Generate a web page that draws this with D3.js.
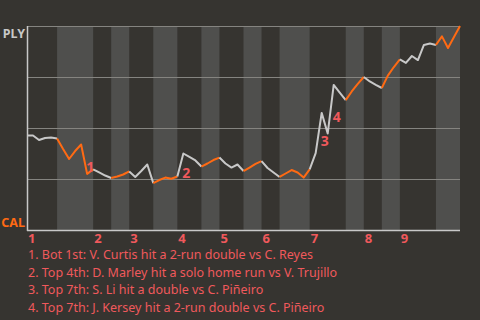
<!DOCTYPE html>
<html>
<head>
<meta charset="utf-8">
<script src="https://cdn.jsdelivr.net/npm/d3@7"></script>
<style>
  body { margin: 0; background: #363430; }
  svg { display: block; font-family: "Noto Sans", sans-serif; }
</style>
</head>
<body>
<div id="chart"></div>
<script>
// Win probability for PLY, one value per play (0 = CAL wins, 1 = PLY wins)
var winProb = [
    0.463, 0.463, 0.441, 0.451, 0.453, 0.449, 0.397, 0.348, 0.387, 0.419,
    0.275, 0.297, 0.282, 0.267, 0.255, 0.262, 0.272, 0.287, 0.260, 0.289,
    0.321, 0.230, 0.245, 0.257, 0.251, 0.262, 0.375, 0.358, 0.341, 0.311,
    0.326, 0.343, 0.355, 0.326, 0.306, 0.321, 0.289, 0.306, 0.324, 0.338,
    0.304, 0.282, 0.260, 0.277, 0.294, 0.282, 0.257, 0.297, 0.377, 0.574,
    0.473, 0.711, 0.674, 0.637, 0.679, 0.716, 0.750, 0.728, 0.711, 0.696,
    0.757, 0.799, 0.836, 0.819, 0.853, 0.833, 0.907, 0.914, 0.907, 0.949,
    0.892, 0.946, 1.000
];

// Play index where each half inning starts (top 1, bot 1, top 2, ...)
var halfStarts = [0, 5, 11, 14, 17, 21, 25, 29, 32, 36, 39, 42, 47, 53, 56, 59, 62, 68];
var innings = ["1", "2", "3", "4", "5", "6", "7", "8", "9"];

var teams = ["PLY", "CAL"];
var gridValues = [0, 0.25, 0.5, 0.75, 1];

// Key plays
var eventPlays = [10, 26, 49, 51];
var eventTexts = [
    "1. Bot 1st: V. Curtis hit a 2-run double vs C. Reyes",
    "2. Top 4th: D. Marley hit a solo home run vs V. Trujillo",
    "3. Top 7th: S. Li hit a double vs C. Piñeiro",
    "4. Top 7th: J. Kersey hit a 2-run double vs C. Piñeiro"
];

var width = 480,
    height = 320;
var margin = { top: 26, right: 20, bottom: 90, left: 27 };

var colors = {
    bg: "#363430",
    band: "#4f4f4d",
    grid: "#858480",
    axis: "#c8c8c8",
    top: "#c8c8c8",
    bottom: "#ff6a13",
    text: "#f0595c"
};

var svg = d3.select("#chart")
    .append("svg")
    .attr("width", width)
    .attr("height", height);

svg.append("rect")
    .attr("width", width)
    .attr("height", height)
    .attr("fill", colors.bg);

var x = d3.scaleLinear()
    .domain([0, winProb.length - 1])
    .range([margin.left, width - margin.right]);

var y = d3.scaleLinear()
    .domain([0, 1])
    .range([height - margin.bottom, margin.top]);

// half inning ranges
var halves = halfStarts.map(function (s, i) {
    var e = i < halfStarts.length - 1 ? halfStarts[i + 1] : winProb.length - 1;
    return { start: s, end: e, bottom: i % 2 === 1 };
});

// light bands for bottom halves
svg.append("g")
    .selectAll("rect")
    .data(halves.filter(function (h) { return h.bottom; }))
    .join("rect")
    .attr("x", function (d) { return x(d.start); })
    .attr("width", function (d) { return x(d.end) - x(d.start); })
    .attr("y", y(1))
    .attr("height", y(0) - y(1))
    .attr("fill", colors.band);

// grid lines
svg.append("g")
    .selectAll("line")
    .data(gridValues.slice(1))
    .join("line")
    .attr("x1", x(0))
    .attr("x2", x(winProb.length - 1))
    .attr("y1", function (d) { return Math.round(y(d)) + 0.5; })
    .attr("y2", function (d) { return Math.round(y(d)) + 0.5; })
    .attr("stroke", colors.grid)
    .attr("stroke-width", 1.2);

// axes
svg.append("line")
    .attr("x1", x(0) + 0.5).attr("x2", x(0) + 0.5)
    .attr("y1", y(1)).attr("y2", y(0) + 1)
    .attr("stroke", colors.axis)
    .attr("stroke-width", 1.5);
svg.append("line")
    .attr("x1", x(0)).attr("x2", x(winProb.length - 1))
    .attr("y1", y(0) + 0.5).attr("y2", y(0) + 0.5)
    .attr("stroke", colors.axis)
    .attr("stroke-width", 1.5);

// win probability line, one path per half inning
var line = d3.line()
    .x(function (d) { return x(d); })
    .y(function (d) { return y(winProb[d]); });

svg.append("g")
    .selectAll("path")
    .data(halves)
    .join("path")
    .attr("d", function (h) { return line(d3.range(h.start, h.end + 1)); })
    .attr("fill", "none")
    .attr("stroke", function (h) { return h.bottom ? colors.bottom : colors.top; })
    .attr("stroke-width", 2)
    .attr("stroke-linejoin", "round");

// event numbers on the line
svg.append("g")
    .selectAll("text")
    .data(eventPlays)
    .join("text")
    .attr("x", function (d) { return x(d) - 1; })
    .attr("y", function (d) { return (y(winProb[d]) + y(winProb[d - 1])) / 2 + 13; })
    .attr("fill", colors.text)
    .attr("font-size", 14)
    .attr("font-weight", "bold")
    .text(function (d, i) { return i + 1; });

// team labels
svg.append("text")
    .attr("x", margin.left - 2)
    .attr("y", y(1) + 12)
    .attr("text-anchor", "end")
    .attr("fill", colors.top)
    .attr("font-size", 12.5)
    .attr("font-weight", "bold")
    .text(teams[0]);
svg.append("text")
    .attr("x", margin.left - 2)
    .attr("y", y(0) - 3)
    .attr("text-anchor", "end")
    .attr("fill", colors.bottom)
    .attr("font-size", 12.5)
    .attr("font-weight", "bold")
    .text(teams[1]);

// inning numbers
svg.append("g")
    .selectAll("text")
    .data(innings)
    .join("text")
    .attr("x", function (d, i) { return x(halfStarts[i * 2]) + 1; })
    .attr("y", y(0) + 13)
    .attr("fill", colors.text)
    .attr("font-size", 13)
    .attr("font-weight", "bold")
    .text(function (d) { return d; });

// legend
svg.append("g")
    .selectAll("text")
    .data(eventTexts)
    .join("text")
    .attr("x", margin.left + 1)
    .attr("y", function (d, i) { return 259 + i * 17.7; })
    .attr("fill", colors.text)
    .attr("font-size", 12.5)
    .text(function (d) { return d; });
</script>
</body>
</html>
